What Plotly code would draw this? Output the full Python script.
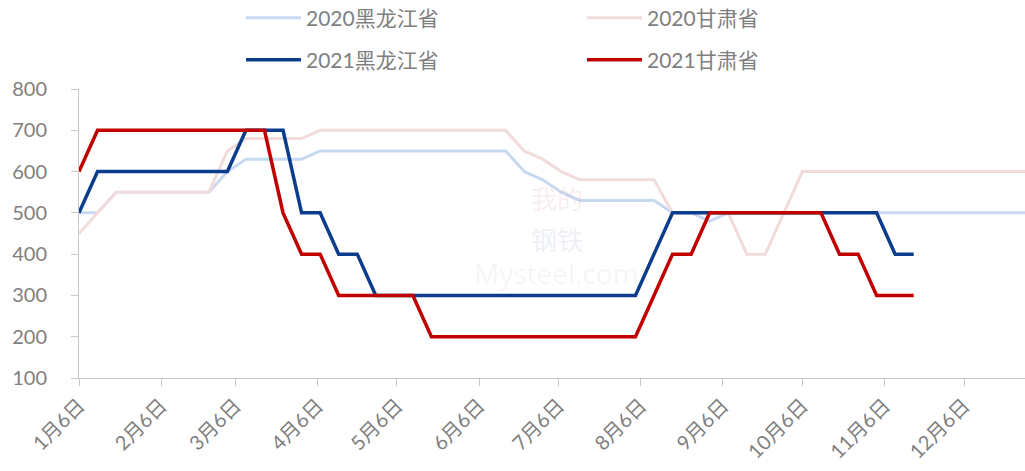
import pandas as pd
import plotly.graph_objects as go

# Weekly observation dates (plotted on a common calendar axis)
dates_2020 = pd.date_range("2021-01-06", periods=52, freq="7D")
dates_2021 = pd.date_range("2021-01-06", periods=46, freq="7D")

hlj_2020 = [500, 500, 550, 550, 550, 550, 550, 550, 600, 630, 630, 630, 630,
            650, 650, 650, 650, 650, 650, 650, 650, 650, 650, 650,
            600, 580, 550, 530, 530, 530, 530, 530, 500, 500, 480,
            500, 500, 500, 500, 500, 500, 500, 500, 500, 500, 500, 500, 500, 500, 500, 500, 500]
gs_2020 = [450, 500, 550, 550, 550, 550, 550, 550, 650, 680, 680, 680, 680,
           700, 700, 700, 700, 700, 700, 700, 700, 700, 700, 700,
           650, 630, 600, 580, 580, 580, 580, 580, 500, 500, 500, 500,
           400, 400, 500, 600, 600, 600, 600, 600, 600, 600, 600, 600, 600, 600, 600, 600]
hlj_2021 = [500, 600, 600, 600, 600, 600, 600, 600, 600, 700, 700, 700, 500, 500,
            400, 400, 300, 300, 300, 300, 300, 300, 300, 300, 300, 300, 300, 300,
            300, 300, 300, 400, 500, 500, 500, 500, 500, 500, 500, 500, 500, 500,
            500, 500, 400, 400]
gs_2021 = [600, 700, 700, 700, 700, 700, 700, 700, 700, 700, 700, 500, 400, 400,
           300, 300, 300, 300, 300, 200, 200, 200, 200, 200, 200, 200, 200, 200,
           200, 200, 200, 300, 400, 400, 500, 500, 500, 500, 500, 500, 500, 400,
           400, 300, 300, 300]

tick_dates = ["2021-01-06", "2021-02-06", "2021-03-06", "2021-04-06", "2021-05-06", "2021-06-06",
              "2021-07-06", "2021-08-06", "2021-09-06", "2021-10-06", "2021-11-06", "2021-12-06"]
tick_labels = ["1月6日", "2月6日", "3月6日", "4月6日", "5月6日", "6月6日",
               "7月6日", "8月6日", "9月6日", "10月6日", "11月6日", "12月6日"]

FONT = "Lato, 'Noto Sans CJK SC', sans-serif"
GRAY = "#7f7f7f"
AXIS = "#c8c8c8"

fig = go.Figure()
fig.add_trace(go.Scatter(x=dates_2020, y=hlj_2020, mode="lines", name="2020黑龙江省",
                         line=dict(color="#c6d9f1", width=3), legend="legend"))
fig.add_trace(go.Scatter(x=dates_2020, y=gs_2020, mode="lines", name="2020甘肃省",
                         line=dict(color="#f2dcdb", width=3), legend="legend"))
fig.add_trace(go.Scatter(x=dates_2021, y=hlj_2021, mode="lines", name="2021黑龙江省",
                         line=dict(color="#0b3d8c", width=3.5), legend="legend2"))
fig.add_trace(go.Scatter(x=dates_2021, y=gs_2021, mode="lines", name="2021甘肃省",
                         line=dict(color="#c00000", width=3.5), legend="legend2"))

# faint watermark
fig.add_annotation(xref="paper", yref="paper", x=0.505, y=0.626, text="我的", showarrow=False,
                   font=dict(size=26, color="rgba(220,150,150,0.18)", family="'Noto Sans CJK SC'"))
fig.add_annotation(xref="paper", yref="paper", x=0.505, y=0.481, text="钢铁", showarrow=False,
                   font=dict(size=26, color="rgba(150,165,200,0.18)", family="'Noto Sans CJK SC'"))
fig.add_annotation(xref="paper", yref="paper", x=0.505, y=0.362, text="Mysteel.com", showarrow=False,
                   font=dict(size=28, color="rgba(180,180,180,0.13)", family="'Open Sans'"))

legend_common = dict(orientation="h", xanchor="left", yanchor="middle",
                     font=dict(family=FONT, size=21, color=GRAY),
                     entrywidth=271, entrywidthmode="pixels", itemwidth=55,
                     bgcolor="rgba(0,0,0,0)", traceorder="normal")

fig.update_layout(
    width=1025, height=471,
    margin=dict(l=79, r=0, t=89, b=93, autoexpand=False),
    paper_bgcolor="white", plot_bgcolor="white",
    showlegend=True,
    legend=dict(x=(241 - 79) / 946, y=1 + (89 - 18) / 289, **legend_common),
    legend2=dict(x=(241 - 79) / 946, y=1 + (89 - 60) / 289, **legend_common),
    xaxis=dict(type="date", range=["2021-01-06", "2021-12-29"], automargin=False,
               tickmode="array", tickvals=tick_dates, ticktext=tick_labels,
               tickangle=-45, tickfont=dict(family=FONT, size=20, color=GRAY),
               showgrid=False, zeroline=False, showline=True, linecolor=AXIS, linewidth=1,
               ticks="outside", ticklen=7, tickcolor=AXIS),
    yaxis=dict(range=[100, 800], dtick=100, tick0=100, automargin=False,
               tickfont=dict(family=FONT, size=20, color=GRAY),
               showgrid=False, zeroline=False, showline=True, linecolor=AXIS, linewidth=1,
               ticks="outside", ticklen=7, tickcolor=AXIS, ticklabelstandoff=20),
)

fig.write_html("out.html", config={"displayModeBar": False},
               post_script="document.body.style.margin='0';")
